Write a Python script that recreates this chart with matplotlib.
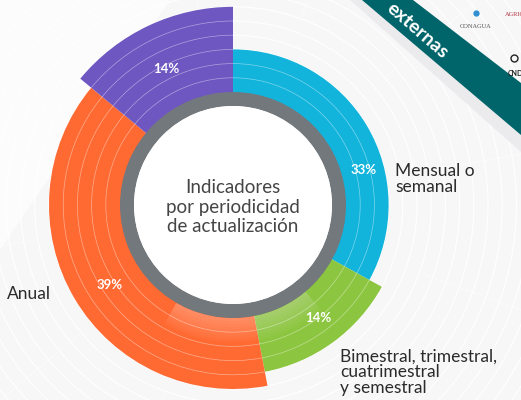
import matplotlib
matplotlib.use("Agg")
import matplotlib.pyplot as plt
from matplotlib.patches import Wedge, Circle, Arc, Polygon
import numpy as np

# ---- data ----
categories = ["Mensual o\nsemanal",
              "Bimestral, trimestral,\ncuatrimestral\ny semestral",
              "Anual", ""]
shares = [33, 14, 39, 14]
pct_labels = ["33%", "14%", "39%", "14%"]
center_title = "Indicadores\npor periodicidad\nde actualización"
banner_text = "externas"

# ---- style / layout ----
colors = ["#12b4dc", "#8cc53f", "#ff6a33", "#6e57c1"]
ring_levels = [3, 4, 5, 6]         # number of bands per segment
W, H = 521, 400
cx, cy = 233, H - 205
r0 = 113          # inner radius of segments (= outer radius of grey ring)
band = 14.2
ring_w = 14
label_offsets = [-15.6, 1.0, 2.5, 1.0]
label_radii = [135, 141, 147, 152]

FONT = ["Lato", "DejaVu Sans"]
plt.rcParams["font.family"] = FONT

fig = plt.figure(figsize=(W / 100, H / 100), dpi=100)
ax = fig.add_axes([0, 0, 1, 1])
ax.set_xlim(0, W)
ax.set_ylim(0, H)
ax.set_aspect("equal")
ax.axis("off")
fig.patch.set_facecolor("#f7f7f8")

# lighter zone top-left
ax.add_patch(Polygon([(0, H), (170, H), (0, H - 250)], closed=True,
                     fc="#fcfcfc", ec="none", zorder=0.5))

# background faint concentric circles
for k in range(1, 20):
    ax.add_patch(Circle((cx, cy), r0 + band * k, fill=False, ec="white", lw=0.8, zorder=1))
# faint radial lines in background
for ang in np.arange(0, 360, 30):
    a = np.deg2rad(ang + 10)
    ax.plot([cx + 200 * np.cos(a), cx + 600 * np.cos(a)],
            [cy + 200 * np.sin(a), cy + 600 * np.sin(a)], color="white", lw=0.6,
            alpha=0.6, zorder=1)

# segments
start = 90.0
for i, (s, c, lev) in enumerate(zip(shares, colors, ring_levels)):
    span = s * 3.6
    t2 = start
    t1 = start - span
    rout = r0 + band * lev
    ax.add_patch(Wedge((cx, cy), rout, t1, t2, width=rout - r0 + 1, fc=c, ec="none", zorder=3))
    for k in range(1, lev):
        rr = r0 + band * k
        ax.add_patch(Arc((cx, cy), 2 * rr, 2 * rr, theta1=t1, theta2=t2,
                         color="white", lw=0.5, alpha=0.45, zorder=4))
    mid = (t1 + t2) / 2 + label_offsets[i]
    lr = label_radii[i]
    ax.text(cx + lr * np.cos(np.deg2rad(mid)), cy + lr * np.sin(np.deg2rad(mid)),
            pct_labels[i], color="white", fontsize=9.5, fontweight="bold",
            ha="center", va="center", zorder=6)
    start = t1

# soft light glow at bottom inner edge
for j in range(8):
    ax.add_patch(Wedge((cx, cy), r0 + 3 + j * 3, -120, -50, width=3 + j * 3,
                       fc="white", ec="none", alpha=0.035, zorder=4.5))

# grey ring and white center
ax.add_patch(Wedge((cx, cy), r0, 0, 360, width=ring_w, fc="#73787c", ec="none", zorder=5))
ax.add_patch(Circle((cx, cy), r0 - ring_w, fc="white", ec="none", zorder=5))
ax.text(cx, cy - 2, center_title, ha="center", va="center", fontsize=13.5,
        color="#454545", linespacing=1.15, zorder=6)

# outside category labels
ax.text(395, H - 179, categories[0], ha="left", va="center", fontsize=12.5,
        color="#2b2b2b", linespacing=1.05, zorder=6)
ax.text(340, H - 372, categories[1], ha="left", va="center", fontsize=12.5,
        color="#2b2b2b", linespacing=0.98, zorder=6)
ax.text(7, H - 294, categories[2], ha="left", va="center", fontsize=12.5,
        color="#2b2b2b", zorder=6)

# banner top right
shadow = Polygon([(362, H - 0), (521, H - 135), (521, H - 152), (350, H - 0)],
                 closed=True, fc="#ebebed", ec="none", zorder=7)
ax.add_patch(shadow)
banner = Polygon([(413, H - 0), (521, H - 83), (521, H - 135), (362, H - 0)],
                 closed=True, fc="#00656a", ec="none", zorder=8)
ax.add_patch(banner)
ax.text(417, H - 31, banner_text, rotation=-41, ha="center", va="center",
        color="white", fontsize=14, fontweight="bold", zorder=9)

# logos (approximated with text)
ax.text(476, H - 26, "CONAGUA", ha="center", va="center", fontsize=4.6,
        color="#555555", family=["Liberation Serif"], zorder=9)
ax.plot([476], [H - 13], marker="o", ms=3.5, color="#2f8fd0", zorder=9)
ax.text(505, H - 14, "AGRIC", ha="left", va="center", fontsize=4.6,
        color="#b0303a", family=["Liberation Serif"], zorder=9, clip_on=True)
ax.text(508, H - 73, "CNDH", ha="left", va="center", fontsize=5,
        color="#222222", fontweight="bold", zorder=9, clip_on=True)
ax.plot([514], [H - 58], marker="o", ms=5, mfc="none", mec="#222222", zorder=9)

fig.savefig("out.png", dpi=100, facecolor=fig.get_facecolor())
